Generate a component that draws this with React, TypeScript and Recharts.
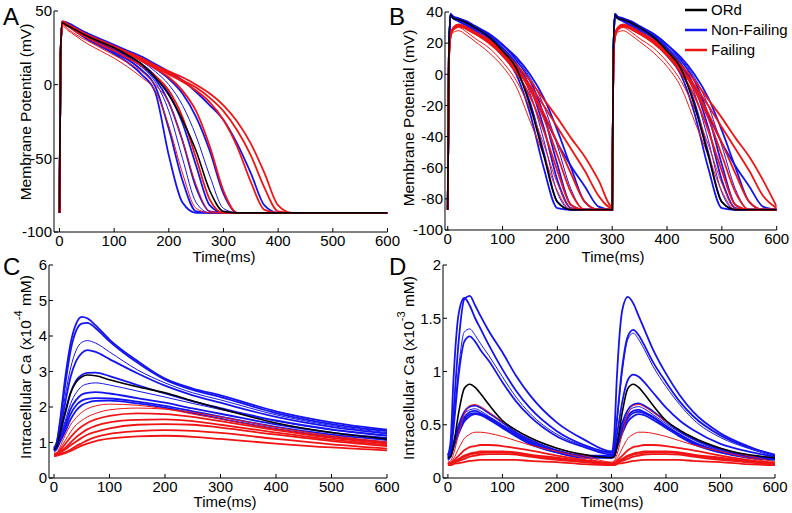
import { LineChart, Line, XAxis, YAxis } from 'recharts';

const FONT = '"Liberation Sans", Arial, Helvetica, sans-serif';
const BLUE = '#1414f0';
const RED = '#f01414';
const BLACK = '#000000';

const timeTicks = [0, 100, 200, 300, 400, 500, 600];

// ---- A: membrane potential, single beat (mV) ----
const timeA = [0, 2, 5, 15, 30, 50, 75, 100, 125, 150, 175, 200, 225, 250, 275, 300, 325, 350, 375, 400, 425, 450, 600];
const apOrdA = [-87, 20, 42, 40, 37, 33, 29, 25, 20, 14, 5, -7, -24, -45, -72, -86, -87, -87, -87, -87, -87, -87, -87];
const apNonFailingA = [
  [-87, 18, 42, 40, 36, 31, 26, 21, 15, 7, -5, -48, -80, -87, -87, -87, -87, -87, -87, -87, -87, -87, -87],
  [-87, 18, 42, 40, 37, 32, 27, 22, 17, 10, -1, -30, -65, -86, -87, -87, -87, -87, -87, -87, -87, -87, -87],
  [-87, 20, 43, 41, 37, 33, 28, 23, 18, 12, 2, -18, -50, -80, -87, -87, -87, -87, -87, -87, -87, -87, -87],
  [-87, 20, 42, 40, 37, 33, 28, 24, 19, 13, 4, -12, -38, -70, -86, -87, -87, -87, -87, -87, -87, -87, -87],
  [-87, 20, 42, 41, 38, 34, 29, 25, 20, 14, 6, -6, -26, -55, -82, -87, -87, -87, -87, -87, -87, -87, -87],
  [-87, 20, 43, 41, 38, 34, 30, 26, 21, 16, 9, 0, -14, -35, -62, -84, -87, -87, -87, -87, -87, -87, -87],
  [-87, 20, 42, 41, 38, 35, 30, 26, 22, 17, 11, 4, -6, -22, -45, -74, -87, -87, -87, -87, -87, -87, -87],
  [-87, 20, 43, 42, 39, 35, 31, 27, 23, 19, 14, 9, 3, -5, -14, -24, -40, -60, -82, -87, -87, -87, -87],
];
const apFailingA = [
  [-87, 15, 40, 37, 33, 28, 23, 18, 12, 5, -4, -28, -60, -84, -87, -87, -87, -87, -87, -87, -87, -87, -87],
  [-87, 15, 41, 38, 34, 30, 25, 20, 15, 9, 0, -12, -38, -68, -86, -87, -87, -87, -87, -87, -87, -87, -87],
  [-87, 18, 42, 40, 36, 32, 27, 23, 18, 13, 6, -4, -22, -50, -78, -87, -87, -87, -87, -87, -87, -87, -87],
  [-87, 18, 42, 40, 37, 33, 29, 25, 21, 16, 11, 5, -4, -18, -42, -72, -87, -87, -87, -87, -87, -87, -87],
  [-87, 20, 43, 41, 38, 34, 30, 26, 22, 17, 13, 9, 5, 0, -6, -14, -25, -40, -60, -82, -87, -87, -87],
  [-87, 20, 43, 41, 38, 34, 30, 26, 22, 18, 13, 8, 3, -2, -9, -18, -31, -48, -70, -86, -87, -87, -87],
  [-87, 20, 42, 40, 37, 33, 29, 25, 21, 17, 12, 7, 2, -4, -12, -24, -42, -66, -85, -87, -87, -87, -87],
];

// ---- B: membrane potential, two beats of 300 ms (mV), values for one beat ----
const beatTimeB = [0, 2, 5, 10, 20, 35, 50, 75, 100, 125, 150, 175, 200, 225, 250, 275];
const apOrdB = [-87, 10, 38, 36, 35, 33, 30, 24, 15, 4, -20, -52, -82, -87, -87, -87];
const apNonFailingB = [
  [-87, 10, 38, 36, 34, 31, 28, 21, 12, 0, -25, -60, -86, -87, -87, -87],
  [-87, 10, 38, 36, 35, 32, 29, 23, 14, 3, -18, -50, -82, -87, -87, -87],
  [-87, 10, 39, 37, 35, 33, 30, 24, 16, 5, -12, -42, -76, -87, -87, -87],
  [-87, 10, 38, 37, 35, 33, 30, 25, 17, 7, -8, -34, -68, -86, -87, -87],
  [-87, 10, 39, 37, 36, 34, 31, 26, 19, 9, -4, -26, -58, -84, -87, -87],
  [-87, 10, 38, 37, 36, 34, 31, 26, 19, 10, -2, -20, -46, -74, -87, -87],
  [-87, 10, 38, 37, 35, 33, 30, 26, 19, 11, 0, -15, -36, -60, -82, -87],
  [-87, 10, 38, 36, 35, 33, 30, 25, 17, 6, -8, -26, -44, -59, -72, -85],
];
const apFailingB = [
  [-87, 5, 22, 27, 28, 25, 21, 14, 5, -8, -30, -52, -75, -87, -87, -87],
  [-87, 5, 24, 28, 30, 27, 23, 17, 8, -4, -22, -45, -70, -86, -87, -87],
  [-87, 8, 25, 29, 31, 29, 26, 20, 12, 1, -14, -36, -62, -84, -87, -87],
  [-87, 8, 26, 30, 32, 30, 27, 22, 14, 4, -10, -28, -52, -76, -87, -87],
  [-86, 6, 24, 29, 31, 29, 26, 21, 14, 4, -7, -20, -34, -48, -62, -78],
  [-85, 6, 25, 29, 31, 30, 27, 22, 15, 6, -4, -16, -28, -41, -53, -68],
  [-87, 6, 25, 29, 31, 29, 26, 21, 13, 3, -9, -25, -44, -64, -82, -87],
];

// ---- C: intracellular Ca, single beat (x1e-4 mM) ----
const timeC = [0, 5, 10, 20, 30, 40, 50, 60, 75, 100, 150, 200, 250, 300, 400, 500, 600];
const caOrdC = [0.8, 0.88, 1.2, 1.85, 2.4, 2.7, 2.85, 2.9, 2.88, 2.77, 2.57, 2.4, 2.17, 1.95, 1.55, 1.28, 1.1];
const caNonFailingC = [
  [0.85, 1.0, 1.5, 2.8, 3.8, 4.35, 4.54, 4.5, 4.3, 3.9, 3.3, 2.8, 2.52, 2.33, 1.88, 1.57, 1.36],
  [0.85, 1.0, 1.45, 2.6, 3.6, 4.15, 4.35, 4.37, 4.22, 3.85, 3.25, 2.77, 2.48, 2.28, 1.83, 1.52, 1.32],
  [0.8, 0.95, 1.35, 2.3, 3.1, 3.6, 3.82, 3.87, 3.8, 3.55, 3.05, 2.68, 2.4, 2.2, 1.78, 1.48, 1.28],
  [0.8, 0.95, 1.3, 2.1, 2.85, 3.3, 3.52, 3.6, 3.55, 3.35, 2.95, 2.6, 2.33, 2.12, 1.72, 1.44, 1.25],
  [0.8, 0.92, 1.2, 1.8, 2.4, 2.75, 2.9, 2.96, 2.97, 2.87, 2.62, 2.38, 2.16, 1.97, 1.62, 1.37, 1.2],
  [0.8, 0.9, 1.15, 1.6, 2.1, 2.4, 2.58, 2.65, 2.68, 2.62, 2.45, 2.28, 2.1, 1.93, 1.6, 1.35, 1.18],
  [0.78, 0.88, 1.1, 1.5, 1.95, 2.2, 2.35, 2.4, 2.42, 2.38, 2.25, 2.12, 1.96, 1.81, 1.51, 1.28, 1.13],
  [0.78, 0.86, 1.05, 1.4, 1.8, 2.05, 2.18, 2.23, 2.25, 2.24, 2.15, 2.03, 1.88, 1.73, 1.44, 1.22, 1.07],
  [0.75, 0.82, 0.98, 1.3, 1.65, 1.9, 2.05, 2.12, 2.17, 2.18, 2.1, 1.98, 1.83, 1.67, 1.38, 1.16, 1.0],
];
const caFailingC = [
  [0.7, 0.72, 0.85, 1.2, 1.5, 1.7, 1.85, 1.95, 2.03, 2.08, 2.05, 1.95, 1.8, 1.66, 1.38, 1.16, 1.0],
  [0.68, 0.7, 0.8, 1.05, 1.3, 1.5, 1.62, 1.72, 1.82, 1.92, 1.97, 1.94, 1.85, 1.72, 1.43, 1.19, 1.02],
  [0.66, 0.68, 0.76, 0.95, 1.15, 1.32, 1.45, 1.55, 1.65, 1.75, 1.82, 1.8, 1.72, 1.6, 1.35, 1.13, 0.97],
  [0.65, 0.67, 0.73, 0.85, 1.0, 1.15, 1.27, 1.37, 1.47, 1.57, 1.64, 1.65, 1.6, 1.5, 1.28, 1.08, 0.93],
  [0.64, 0.66, 0.7, 0.8, 0.92, 1.03, 1.13, 1.22, 1.3, 1.4, 1.5, 1.52, 1.5, 1.42, 1.22, 1.04, 0.9],
  [0.63, 0.64, 0.67, 0.72, 0.8, 0.9, 0.98, 1.06, 1.15, 1.24, 1.32, 1.35, 1.33, 1.27, 1.1, 0.95, 0.83],
  [0.62, 0.63, 0.65, 0.7, 0.76, 0.84, 0.91, 0.97, 1.04, 1.11, 1.17, 1.19, 1.16, 1.1, 0.97, 0.86, 0.78],
];

// ---- D: intracellular Ca, two beats of 300 ms (x1e-3 mM) ----
const beatTimeD = [0, 5, 10, 20, 30, 40, 50, 60, 75, 100, 125, 150, 200, 250];
const caOrdD = [0.19, 0.2, 0.3, 0.62, 0.84, 0.88, 0.85, 0.79, 0.69, 0.54, 0.45, 0.38, 0.28, 0.22];
const caNonFailingD1 = [
  [0.22, 0.28, 0.6, 1.3, 1.68, 1.71, 1.62, 1.52, 1.38, 1.18, 0.96, 0.78, 0.52, 0.36],
  [0.21, 0.35, 0.9, 1.55, 1.69, 1.62, 1.5, 1.4, 1.25, 1.02, 0.82, 0.66, 0.44, 0.31],
  [0.2, 0.25, 0.5, 1.05, 1.37, 1.4, 1.34, 1.26, 1.15, 0.95, 0.76, 0.61, 0.41, 0.3],
  [0.2, 0.24, 0.45, 0.98, 1.28, 1.33, 1.28, 1.2, 1.1, 0.9, 0.72, 0.58, 0.39, 0.29],
  [0.19, 0.22, 0.32, 0.5, 0.62, 0.67, 0.68, 0.66, 0.61, 0.52, 0.43, 0.36, 0.26, 0.21],
  [0.19, 0.22, 0.31, 0.48, 0.6, 0.64, 0.65, 0.63, 0.58, 0.5, 0.42, 0.35, 0.26, 0.21],
  [0.18, 0.21, 0.3, 0.46, 0.57, 0.62, 0.63, 0.61, 0.57, 0.49, 0.41, 0.34, 0.25, 0.2],
  [0.18, 0.21, 0.29, 0.44, 0.55, 0.6, 0.61, 0.6, 0.56, 0.48, 0.4, 0.33, 0.24, 0.2],
  [0.17, 0.2, 0.28, 0.42, 0.53, 0.58, 0.6, 0.59, 0.55, 0.47, 0.39, 0.32, 0.24, 0.19],
];
const caNonFailingD2 = [
  [0.25, 0.3, 0.55, 1.05, 1.33, 1.39, 1.34, 1.25, 1.1, 0.9, 0.72, 0.58, 0.4, 0.29],
  [0.24, 0.4, 0.95, 1.58, 1.7, 1.64, 1.52, 1.4, 1.22, 0.98, 0.78, 0.62, 0.42, 0.3],
  [0.23, 0.3, 0.52, 1.0, 1.3, 1.36, 1.3, 1.21, 1.06, 0.86, 0.69, 0.55, 0.38, 0.28],
  [0.22, 0.26, 0.4, 0.72, 0.92, 0.97, 0.95, 0.9, 0.81, 0.66, 0.54, 0.45, 0.32, 0.25],
  [0.21, 0.23, 0.33, 0.52, 0.64, 0.69, 0.7, 0.68, 0.63, 0.53, 0.44, 0.37, 0.27, 0.21],
  [0.21, 0.22, 0.31, 0.49, 0.61, 0.66, 0.67, 0.65, 0.6, 0.51, 0.43, 0.36, 0.26, 0.21],
  [0.2, 0.21, 0.3, 0.46, 0.58, 0.63, 0.64, 0.62, 0.58, 0.49, 0.41, 0.34, 0.25, 0.2],
  [0.2, 0.21, 0.29, 0.44, 0.56, 0.61, 0.62, 0.61, 0.57, 0.48, 0.4, 0.33, 0.24, 0.2],
  [0.19, 0.2, 0.28, 0.42, 0.53, 0.58, 0.6, 0.59, 0.55, 0.47, 0.39, 0.32, 0.24, 0.19],
];
const caFailingD = [
  [0.15, 0.16, 0.22, 0.42, 0.6, 0.68, 0.69, 0.67, 0.62, 0.53, 0.45, 0.38, 0.28, 0.21],
  [0.14, 0.15, 0.18, 0.28, 0.37, 0.41, 0.43, 0.43, 0.42, 0.39, 0.35, 0.31, 0.25, 0.19],
  [0.14, 0.14, 0.16, 0.21, 0.26, 0.29, 0.3, 0.31, 0.31, 0.3, 0.28, 0.26, 0.21, 0.17],
  [0.13, 0.14, 0.15, 0.18, 0.21, 0.23, 0.24, 0.25, 0.25, 0.25, 0.24, 0.22, 0.19, 0.16],
  [0.13, 0.13, 0.14, 0.17, 0.2, 0.22, 0.23, 0.235, 0.24, 0.24, 0.23, 0.21, 0.18, 0.15],
  [0.13, 0.13, 0.14, 0.16, 0.18, 0.2, 0.21, 0.22, 0.225, 0.225, 0.22, 0.2, 0.17, 0.15],
  [0.12, 0.12, 0.13, 0.14, 0.15, 0.16, 0.165, 0.17, 0.17, 0.17, 0.17, 0.16, 0.15, 0.13],
];

// line widths: thick ones stand for the marker-decorated traces
const nfWidths = [1.8, 1.8, 1, 1.8, 1.8, 1, 1.8, 1.8, 1.8];
const fWidths = [1, 1, 1.8, 1.8, 1.8, 1.8, 1.8];

type Trace = { key: string; beat1: number[]; beat2: number[]; color: string; width: number };

function makeTraces(ord: number[], nf: number[][], f: number[][], nf2?: number[][]): Trace[] {
  const out: Trace[] = [];
  nf.forEach((v, i) => out.push({ key: 'nf' + i, beat1: v, beat2: nf2 ? nf2[i] : v, color: BLUE, width: nfWidths[i] }));
  f.forEach((v, i) => out.push({ key: 'f' + i, beat1: v, beat2: v, color: RED, width: fWidths[i] }));
  out.push({ key: 'ord', beat1: ord, beat2: ord, color: BLACK, width: 1.6 });
  return out;
}

function singleRows(times: number[], traces: Trace[]) {
  return times.map((t, i) => {
    const row: any = { t };
    traces.forEach(s => { row[s.key] = s.beat1[i]; });
    return row;
  });
}

function twoBeatRows(beatTimes: number[], traces: Trace[]) {
  const rows: any[] = [];
  [0, 1].forEach(b => {
    beatTimes.forEach((t, i) => {
      const row: any = { t: t + b * 300 };
      traces.forEach(s => { row[s.key] = (b === 0 ? s.beat1 : s.beat2)[i]; });
      rows.push(row);
    });
  });
  const last: any = { t: 600 };
  traces.forEach(s => { last[s.key] = s.beat1[0]; });
  rows.push(last);
  return rows;
}

const tracesA = makeTraces(apOrdA, apNonFailingA, apFailingA);
const tracesB = makeTraces(apOrdB, apNonFailingB, apFailingB);
const tracesC = makeTraces(caOrdC, caNonFailingC, caFailingC);
const tracesD = makeTraces(caOrdD, caNonFailingD1, caFailingD, caNonFailingD2);

const rowsA = singleRows(timeA, tracesA);
const rowsB = twoBeatRows(beatTimeB, tracesB);
const rowsC = singleRows(timeC, tracesC);
const rowsD = twoBeatRows(beatTimeD, tracesD);

const tickStyle = { fill: '#000', fontSize: 15, fontFamily: FONT };

function Panel({ box, xDomain, yDomain, yTicks, rows, traces }: any) {
  const [left, top, w, h] = box;
  return (
    <div style={{ position: 'absolute', left: left - 50, top: top - 10 }}>
      <LineChart width={w + 75} height={h + 45} data={rows} margin={{ top: 10, right: 25, bottom: 10, left: 10 }}>
        <XAxis
          type="number" dataKey="t" domain={xDomain} ticks={timeTicks} interval={0} allowDataOverflow height={25}
          axisLine={{ stroke: '#000' }} tickLine={{ stroke: '#000' }} tickSize={-4} tickMargin={7} tick={tickStyle}
        />
        <YAxis
          type="number" domain={yDomain} ticks={yTicks} interval={0} allowDataOverflow width={40}
          axisLine={{ stroke: '#000' }} tickLine={{ stroke: '#000' }} tickSize={-4} tickMargin={6} tick={tickStyle}
        />
        {traces.map((s: Trace) => (
          <Line key={s.key} dataKey={s.key} type="monotone" stroke={s.color} strokeWidth={s.width}
            dot={false} activeDot={false} isAnimationActive={false} />
        ))}
      </LineChart>
    </div>
  );
}

export default function App() {
  return (
    <div style={{ position: 'absolute', left: 0, top: 0, width: 792, height: 513, background: '#fff', fontFamily: FONT, overflow: 'hidden' }}>
      <Panel box={[53.5, 11, 333.5, 221]} xDomain={[-10, 600]} yDomain={[-100, 50]} yTicks={[-100, -50, 0, 50]} rows={rowsA} traces={tracesA} />
      <Panel box={[445, 12, 331.7, 218]} xDomain={[-5, 600]} yDomain={[-100, 40]} yTicks={[-100, -80, -60, -40, -20, 0, 20, 40]} rows={rowsB} traces={tracesB} />
      <Panel box={[49, 265, 338, 213]} xDomain={[-9, 600]} yDomain={[0, 6]} yTicks={[0, 1, 2, 3, 4, 5, 6]} rows={rowsC} traces={tracesC} />
      <Panel box={[443, 265, 332, 213]} xDomain={[-9, 600]} yDomain={[0, 2]} yTicks={[0, 0.5, 1, 1.5, 2]} rows={rowsD} traces={tracesD} />
      <svg width={792} height={513} style={{ position: 'absolute', left: 0, top: 0, pointerEvents: 'none' }} fontFamily={FONT} fill="#000">
        <text x={3} y={25} fontSize={24}>A</text>
        <text x={389} y={25} fontSize={24}>B</text>
        <text x={3} y={275} fontSize={24}>C</text>
        <text x={389} y={275} fontSize={24}>D</text>

        <text x={224} y={262} fontSize={15} textAnchor="middle">Time(ms)</text>
        <text x={613} y={262} fontSize={15} textAnchor="middle">Time(ms)</text>
        <text x={225} y={507} fontSize={15} textAnchor="middle">Time(ms)</text>
        <text x={612} y={507} fontSize={15} textAnchor="middle">Time(ms)</text>

        <text transform="translate(25,112) rotate(-90)" fontSize={15.5} textAnchor="middle" dominantBaseline="central">Membrane Potential (mV)</text>
        <text transform="translate(408,118) rotate(-90)" fontSize={15.5} textAnchor="middle" dominantBaseline="central">Membrane Potential (mV)</text>
        <text transform="translate(25,367) rotate(-90)" fontSize={15.5} textAnchor="middle" dominantBaseline="central">
          Intracellular Ca (x10<tspan dy={-7} fontSize={11}>-4</tspan><tspan dy={7}> mM)</tspan>
        </text>
        <text transform="translate(408,368) rotate(-90)" fontSize={15.5} textAnchor="middle" dominantBaseline="central">
          Intracellular Ca (x10<tspan dy={-7} fontSize={11}>-3</tspan><tspan dy={7}> mM)</tspan>
        </text>

        <line x1={685} x2={707} y1={10} y2={10} stroke={BLACK} strokeWidth={2.5} />
        <line x1={685} x2={707} y1={30} y2={30} stroke={BLUE} strokeWidth={2.5} />
        <line x1={685} x2={707} y1={50} y2={50} stroke={RED} strokeWidth={2.5} />
        <text x={711} y={15} fontSize={15}>ORd</text>
        <text x={711} y={35} fontSize={15}>Non-Failing</text>
        <text x={711} y={55} fontSize={15}>Failing</text>
      </svg>
    </div>
  );
}
